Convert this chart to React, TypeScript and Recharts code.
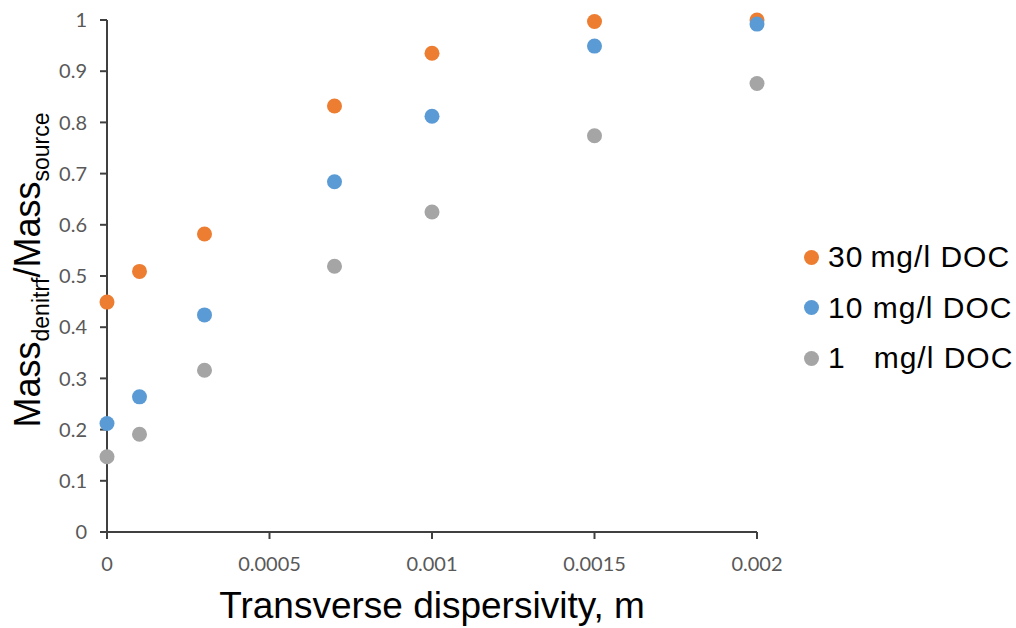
import React from 'react';
import { ScatterChart, Scatter, XAxis, YAxis } from 'recharts';

const dispersivity = [0, 0.0001, 0.0003, 0.0007, 0.001, 0.0015, 0.002];
const doc30 = [0.449, 0.509, 0.582, 0.832, 0.935, 0.997, 1.0];
const doc10 = [0.212, 0.264, 0.424, 0.684, 0.812, 0.949, 0.992];
const doc1 = [0.147, 0.191, 0.316, 0.519, 0.625, 0.774, 0.876];

const xTicks = [0, 0.0005, 0.001, 0.0015, 0.002];
const yTicks = [0, 0.1, 0.2, 0.3, 0.4, 0.5, 0.6, 0.7, 0.8, 0.9, 1];

const seriesList = [
  { name: '30\u2009mg/l DOC', values: doc30, color: '#ED7D31' },
  { name: '10 mg/l DOC', values: doc10, color: '#5B9BD5' },
  { name: '1   mg/l DOC', values: doc1, color: '#A5A5A5' },
];

const ARIAL = 'Liberation Sans, Arial, sans-serif';
const TICK_FONT = 'Lato, sans-serif';

const toPoints = (values: number[]) =>
  dispersivity.map((x, i) => ({ x, y: values[i] }));

const Dot = (color: string) => (props: any) =>
  <circle cx={props.cx} cy={props.cy} r={7.5} fill={color} />;

const YLabel = () => (
  <text transform="translate(40,270) rotate(-90)" textAnchor="middle" fontFamily={ARIAL} fontSize={36} fill="#000">
    Mass
    <tspan fontSize={23} dy={9}>denitrf</tspan>
    <tspan dy={-9}>/Mass</tspan>
    <tspan fontSize={23} dy={9}>source</tspan>
  </text>
);

const XLabel = () => (
  <text x={432} y={618} textAnchor="middle" fontFamily={ARIAL} fontSize={37} fill="#000">
    Transverse dispersivity, m
  </text>
);

const LegendBox = () => (
  <div
    style={{
      position: 'absolute',
      left: 804,
      top: 232,
      fontFamily: ARIAL,
      fontSize: 30,
      letterSpacing: 1,
      color: '#000',
    }}
  >
    {seriesList.map((s) => (
      <div key={s.name} style={{ display: 'flex', alignItems: 'center', height: 50.5, whiteSpace: 'pre' }}>
        <span
          style={{ display: 'inline-block', width: 15, height: 15, borderRadius: '50%', background: s.color, marginRight: 9 }}
        />
        {s.name}
      </div>
    ))}
  </div>
);

const App: React.FC = () => {
  return (
    <div style={{ position: 'fixed', left: 0, top: 0, width: 1016, height: 628, background: '#fff' }}>
      <ScatterChart width={1016} height={628} margin={{ top: 20, right: 259, bottom: 0, left: 0 }}>
        <XAxis
          type="number"
          dataKey="x"
          domain={[0, 0.002]}
          ticks={xTicks}
          tickFormatter={(v: number) => String(v)}
          stroke="#404040"
          strokeWidth={2}
          tickSize={7}
          tickMargin={18}
          tick={{ fill: '#595959', fontSize: 20, fontFamily: TICK_FONT }}
          height={96}
          label={<XLabel />}
        />
        <YAxis
          type="number"
          dataKey="y"
          domain={[0, 1]}
          ticks={yTicks}
          width={107}
          stroke="#404040"
          strokeWidth={2}
          tickSize={7}
          tickMargin={13}
          tick={{ fill: '#595959', fontSize: 20, fontFamily: TICK_FONT }}
          label={<YLabel />}
        />
        {seriesList.map((s) => (
          <Scatter
            key={s.name}
            name={s.name}
            data={toPoints(s.values)}
            fill={s.color}
            shape={Dot(s.color)}
            isAnimationActive={false}
          />
        ))}
      </ScatterChart>
      <LegendBox />
    </div>
  );
};

export default App;
